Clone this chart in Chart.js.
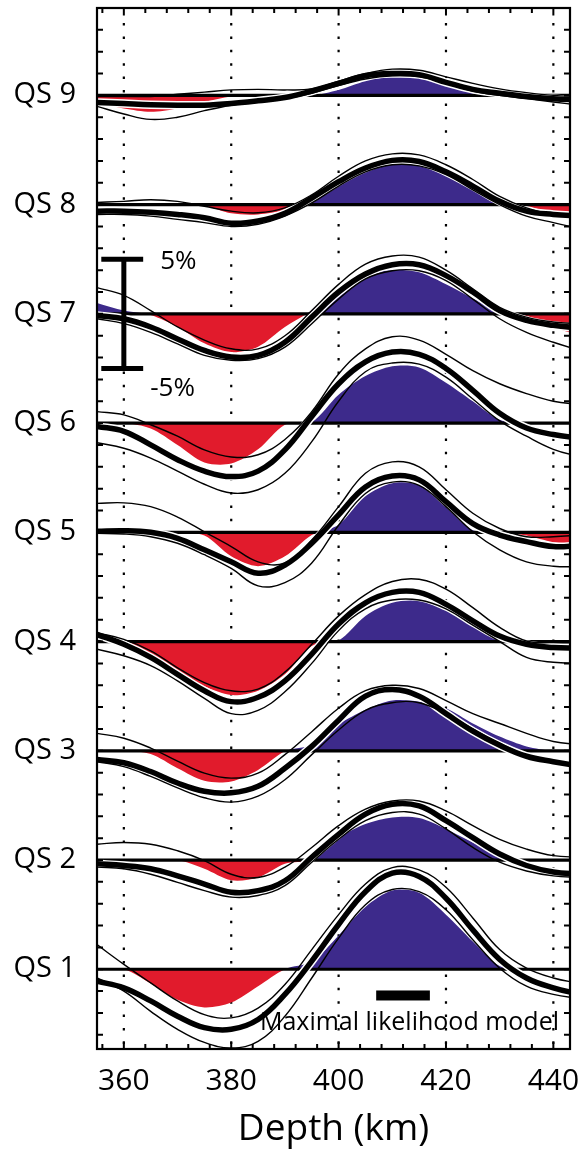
<!DOCTYPE html>
<html>
<head>
<meta charset="utf-8">
<title>QS depth profiles</title>
<script src="https://cdn.jsdelivr.net/npm/chart.js@4.4.0/dist/chart.umd.min.js"></script>
<style>
  html, body { margin: 0; padding: 0; background: #fff; }
  #wrap { position: relative; width: 581px; height: 1149px; }
</style>
</head>
<body>
<div id="wrap"><canvas id="qsChart"></canvas></div>
<script>
/**
 * QS 1 - QS 9 depth profiles, stacked 10 units apart
 */

// depth samples (km)
const depth = [355, 360, 365, 370, 375, 380, 385, 390, 395, 400, 405, 410, 415, 420, 425, 430, 435, 440, 445];

// axis ticks and trace names
const xTickValues = [360, 380, 400, 420, 440];
const traceLabels = ["QS 1", "QS 2", "QS 3", "QS 4", "QS 5", "QS 6", "QS 7", "QS 8", "QS 9"];

// filled anomaly (red below, blue above the trace baseline)
const fillQS1 = [0, 0, -1.3, -2.8, -3.5, -3.05, -1.55, 0, 0.7, 3.1, 5.7, 7.2, 7.0, 5.0, 2.55, 0.3, 0, 0, 0];
const fillQS2 = [0, 0, 0, 0, -0.8, -1.85, -1.6, -0.35, 0.05, 2.05, 3.3, 3.9, 3.85, 2.85, 1.6, 0.4, 0, 0, 0];
const fillQS3 = [0, 0, -0.3, -1.6, -2.75, -2.8, -1.75, -0.05, 0.55, 2.4, 3.75, 4.6, 4.5, 3.9, 2.5, 1.3, 0.4, 0, 0];
const fillQS4 = [0, 0, -1.3, -2.8, -4.1, -4.9, -4.5, -3.0, -0.4, 0.1, 2.35, 3.55, 3.7, 2.8, 1.3, 0.05, 0, 0, 0];
const fillQS5 = [0, 0, 0, 0, -0.3, -2.2, -3.1, -2.2, -0.25, 0.7, 3.3, 4.5, 4.3, 2.3, 0.2, 0, -0.3, -0.9, -1.0];
const fillQS6 = [0, 0, -0.5, -2.0, -3.6, -3.7, -2.4, -0.15, 0.1, 2.6, 4.3, 5.2, 5.1, 3.7, 2.0, 0.3, 0, 0, 0];
const fillQS7 = [1.0, 0.3, -0.1, -1.2, -2.7, -3.5, -3.0, -1.2, 0.3, 2.3, 3.6, 4.0, 3.8, 2.7, 1.4, 0.2, -0.2, -1.2, -2.0];
const fillQS8 = [0, 0, 0, 0, -0.1, -0.8, -0.9, -0.5, 0.3, 1.7, 3.0, 3.8, 3.6, 2.8, 1.4, 0.2, -0.1, -0.8, -1.2];
const fillQS9 = [-0.7, -1.2, -1.5, -1.2, -0.6, -0.1, 0, 0, 0, 0.5, 1.3, 1.7, 1.6, 1.1, 0.2, 0, 0, 0, 0];

// thick curve
const meanQS1 = [-1.1, -1.7, -2.9, -4.3, -5.35, -5.5, -4.6, -2.3, 0.75, 4.1, 7.1, 8.8, 8.5, 6.5, 3.6, 0.9, -0.8, -1.7, -2.3];
const meanQS2 = [-0.35, -0.5, -0.8, -1.45, -2.2, -2.95, -2.8, -1.9, 0.25, 2.35, 4.2, 5.1, 4.95, 3.6, 2.05, 0.55, -0.5, -1.1, -1.3];
const meanQS3 = [-0.8, -1.1, -1.9, -2.95, -3.7, -3.85, -3.25, -1.6, 0.4, 2.8, 5.0, 5.6, 5.0, 3.4, 1.8, 0.5, -0.5, -1.0, -1.4];
const meanQS4 = [0.65, -0.25, -1.45, -3.0, -4.5, -5.5, -5.1, -3.6, -1.15, 1.6, 3.55, 4.5, 4.5, 3.4, 1.9, 0.5, -0.25, -0.55, -0.6];
const meanQS5 = [0.1, 0.15, 0, -0.55, -1.6, -2.7, -3.75, -3.0, -1.0, 1.6, 4.15, 5.15, 4.8, 2.8, 0.8, -0.25, -0.85, -1.3, -1.2];
const meanQS6 = [-0.3, -0.75, -2.0, -3.35, -4.4, -4.9, -4.4, -2.45, 0.6, 3.6, 5.6, 6.5, 6.3, 5.0, 3.0, 0.9, -0.45, -1.05, -1.4];
const meanQS7 = [-0.15, -0.45, -1.2, -2.3, -3.35, -3.95, -3.8, -2.6, -0.3, 2.0, 3.65, 4.5, 4.5, 3.5, 2.0, 0.3, -0.6, -1.05, -1.3];
const meanQS8 = [-0.6, -0.6, -0.7, -0.9, -1.2, -1.7, -1.5, -0.8, 0.6, 2.1, 3.35, 4.05, 3.95, 3.0, 1.7, 0.3, -0.6, -0.9, -1.05];
const meanQS9 = [-0.65, -0.75, -0.85, -0.9, -0.9, -0.75, -0.5, -0.2, 0.4, 1.1, 1.8, 2.0, 1.9, 1.2, 0.55, 0.2, -0.1, -0.3, -0.4];

// thin upper curve
const hiQS1 = [2.25, 0.45, -1.25, -2.9, -4.15, -4.45, -3.55, -1.4, 1.8, 5.0, 7.8, 9.3, 9.1, 7.5, 4.7, 1.8, 0.1, -0.8, -1.3];
const hiQS2 = [1.45, 1.6, 1.45, 0.85, -0.05, -1.3, -1.6, -0.65, 1.15, 3.15, 4.65, 5.4, 5.4, 4.5, 3.15, 1.9, 1.0, 0.4, 0.25];
const hiQS3 = [1.6, 1.15, 0.25, -0.95, -2.05, -2.5, -2.05, -0.35, 1.75, 3.9, 5.5, 6.0, 5.7, 4.6, 3.4, 2.5, 1.6, 0.85, 0.55];
const hiQS4 = [0.8, 0.2, -0.85, -2.4, -3.75, -4.5, -4.35, -2.8, -0.25, 2.35, 4.3, 5.5, 5.7, 4.8, 3.1, 1.3, 0.05, -0.1, -0.1];
const hiQS5 = [2.65, 2.7, 2.35, 1.4, 0.05, -1.3, -2.7, -2.8, -0.7, 2.35, 5.4, 6.45, 6.0, 3.9, 1.75, 0.35, -0.4, -0.4, -0.25];
const hiQS6 = [1.05, 0.75, -0.15, -1.2, -2.45, -3.1, -2.9, -1.5, 1.05, 4.5, 6.8, 7.9, 7.6, 6.3, 4.8, 3.6, 2.7, 2.0, 1.7];
const hiQS7 = [2.4, 1.7, 0.3, -1.2, -2.4, -3.2, -3.2, -2.0, 0.3, 2.7, 4.55, 5.3, 5.2, 4.0, 2.3, 0.6, -0.3, -0.75, -0.9];
const hiQS8 = [0.2, 0.3, 0.45, 0.3, -0.15, -0.6, -0.75, -0.3, 0.9, 2.6, 4.0, 4.65, 4.55, 3.65, 2.3, 0.75, -0.3, -0.9, -1.2];
const hiQS9 = [-0.1, -0.1, -0.1, 0.1, 0.3, 0.5, 0.55, 0.5, 0.6, 1.3, 2.0, 2.4, 2.3, 1.7, 1.1, 0.6, 0.25, 0.0, -0.1];

// thin lower curve
const loQS1 = [-0.8, -2.0, -3.85, -5.5, -6.7, -7.2, -6.6, -4.3, -0.8, 2.85, 5.9, 7.3, 7.1, 5.45, 2.7, 0.1, -1.55, -2.3, -2.7];
const loQS2 = [-0.65, -0.8, -1.3, -2.05, -2.8, -3.4, -3.25, -2.35, -0.2, 1.9, 3.6, 4.35, 4.2, 2.85, 1.15, -0.2, -1.0, -1.45, -1.6];
const loQS3 = [-1.0, -1.45, -2.35, -3.4, -4.3, -4.7, -4.15, -2.65, -0.35, 1.9, 3.7, 4.4, 4.4, 3.4, 2.0, 0.7, -0.4, -1.0, -1.4];
const loQS4 = [-0.7, -1.3, -2.2, -3.6, -5.2, -6.6, -6.3, -4.6, -2.0, 1.0, 3.0, 3.8, 3.8, 3.0, 1.5, 0.0, -1.45, -1.9, -2.0];
const loQS5 = [-0.1, -0.15, -0.4, -1.0, -2.05, -3.3, -4.9, -4.6, -2.8, 0.65, 3.55, 4.6, 4.3, 2.35, 0.05, -1.6, -2.7, -3.1, -3.15];
const loQS6 = [-1.8, -2.3, -3.2, -4.4, -5.6, -6.4, -6.1, -4.6, -1.7, 2.0, 4.7, 5.5, 5.4, 4.2, 2.2, 0.2, -1.2, -2.4, -3.1];
const loQS7 = [-0.45, -0.9, -1.7, -2.75, -3.8, -4.25, -4.1, -3.05, -0.9, 1.35, 3.2, 3.95, 3.95, 3.05, 1.35, -0.45, -1.7, -2.6, -3.35];
const loQS8 = [-0.9, -0.9, -1.05, -1.35, -1.65, -2.0, -1.8, -1.05, 0.15, 1.7, 3.0, 3.65, 3.55, 2.75, 1.35, 0, -1.05, -1.65, -2.2];
const loQS9 = [-1.0, -1.7, -2.2, -2.0, -1.4, -0.9, -0.6, -0.3, 0.2, 0.9, 1.5, 1.8, 1.7, 1.1, 0.4, 0, -0.3, -0.6, -0.9];

// maximal likelihood model depth range (km)
const mlRange = [407, 417];

const traces = [
  { fill: fillQS1, mean: meanQS1, hi: hiQS1, lo: loQS1 },
  { fill: fillQS2, mean: meanQS2, hi: hiQS2, lo: loQS2 },
  { fill: fillQS3, mean: meanQS3, hi: hiQS3, lo: loQS3 },
  { fill: fillQS4, mean: meanQS4, hi: hiQS4, lo: loQS4 },
  { fill: fillQS5, mean: meanQS5, hi: hiQS5, lo: loQS5 },
  { fill: fillQS6, mean: meanQS6, hi: hiQS6, lo: loQS6 },
  { fill: fillQS7, mean: meanQS7, hi: hiQS7, lo: loQS7 },
  { fill: fillQS8, mean: meanQS8, hi: hiQS8, lo: loQS8 },
  { fill: fillQS9, mean: meanQS9, hi: hiQS9, lo: loQS9 },
];

const SPACING = 10;
const RED = "#e11b2c";
const BLUE = "#3d2a8b";
const FONT = '"Open Sans", "DejaVu Sans", sans-serif';

/**
 * one trace -> fill, baseline, halo, thin and thick lines
 */
function buildDatasets() {
  const sets = [];

  traces.forEach(function (t, i) {
    const base = i * SPACING;
    const pts = function (arr) {
      return depth.map(function (d, j) {
        return { x: d, y: base + arr[j] };
      });
    };

    sets.push({
      data: pts(t.fill),
      borderWidth: 0,
      borderColor: "rgba(0,0,0,0)",
      tension: 0.3,
      fill: { target: { value: base }, above: BLUE, below: RED },
      order: 50,
    });
    sets.push({
      data: [
        { x: depth[0], y: base },
        { x: depth[depth.length - 1], y: base },
      ],
      borderColor: "#000",
      borderWidth: 3.2,
      order: 40,
    });
    sets.push({ data: pts(t.mean), borderColor: "#fff", borderWidth: 8.5, order: 30 });
    sets.push({ data: pts(t.hi), borderColor: "#000", borderWidth: 1.4, order: 20 });
    sets.push({ data: pts(t.lo), borderColor: "#000", borderWidth: 1.4, order: 20 });
    sets.push({ data: pts(t.mean), borderColor: "#000", borderWidth: 5.5, order: 10 });
  });

  return sets;
}

/**
 * frame, inward ticks, dotted grid, labels and annotations
 */
const decor = {
  id: "decor",
  beforeDatasetsDraw(chart) {
    const { ctx, chartArea: a, scales } = chart;
    ctx.save();
    ctx.strokeStyle = "#000";
    ctx.lineWidth = 2.2;
    ctx.setLineDash([2.5, 10.9]);
    xTickValues.forEach(function (v) {
      const px = scales.x.getPixelForValue(v);
      ctx.beginPath();
      ctx.moveTo(px, a.top + 15);
      ctx.lineTo(px, a.bottom);
      ctx.stroke();
    });
    ctx.restore();
  },
  afterDatasetsDraw(chart) {
    const { ctx, chartArea: a, scales } = chart;
    const x = scales.x;
    const y = scales.y;
    ctx.save();
    ctx.strokeStyle = "#000";
    ctx.fillStyle = "#000";

    // frame
    ctx.lineWidth = 2.2;
    ctx.strokeRect(a.left, a.top, a.right - a.left, a.bottom - a.top);

    // x ticks every 4 km, top and bottom, pointing in
    ctx.lineWidth = 2;
    for (let v = 356; v < x.max; v += 4) {
      const px = x.getPixelForValue(v);
      const len = xTickValues.indexOf(v) >= 0 ? 7.5 : 5;
      ctx.beginPath();
      ctx.moveTo(px, a.top);
      ctx.lineTo(px, a.top + len);
      ctx.moveTo(px, a.bottom);
      ctx.lineTo(px, a.bottom - len);
      ctx.stroke();
    }

    // y ticks every 2 units, left and right
    for (let v = -6; v < y.max; v += 2) {
      const py = y.getPixelForValue(v);
      ctx.beginPath();
      ctx.moveTo(a.left, py);
      ctx.lineTo(a.left + 6, py);
      ctx.moveTo(a.right, py);
      ctx.lineTo(a.right - 6, py);
      ctx.stroke();
    }

    // trace names
    ctx.font = "29px " + FONT;
    ctx.textAlign = "right";
    ctx.textBaseline = "alphabetic";
    traceLabels.forEach(function (label, i) {
      ctx.fillText(label, a.left - 21, y.getPixelForValue(i * SPACING) + 8);
    });

    // depth tick labels
    ctx.font = "30px " + FONT;
    ctx.textAlign = "center";
    xTickValues.forEach(function (v) {
      ctx.fillText(String(v), x.getPixelForValue(v), a.bottom + 41);
    });

    // axis title
    ctx.font = "37px " + FONT;
    ctx.fillText("Depth (km)", (a.left + a.right) / 2, a.bottom + 91);

    // 5% scale bar on QS 7
    const barBase = 6 * SPACING;
    const bx = x.getPixelForValue(360);
    const bTop = y.getPixelForValue(barBase + 5);
    const bBot = y.getPixelForValue(barBase - 5);
    const capL = x.getPixelForValue(355.8);
    const capR = x.getPixelForValue(363.6);
    ctx.lineWidth = 5;
    ctx.beginPath();
    ctx.moveTo(bx, bTop);
    ctx.lineTo(bx, bBot);
    ctx.moveTo(capL, bTop);
    ctx.lineTo(capR, bTop);
    ctx.moveTo(capL, bBot);
    ctx.lineTo(capR, bBot);
    ctx.stroke();
    ctx.font = "26px " + FONT;
    ctx.textAlign = "left";
    ctx.fillText("5%", capR + 17, bTop + 10);
    ctx.fillText("-5%", capR + 7, bBot + 28);

    // maximal likelihood model marker
    const my = y.getPixelForValue(-2.4);
    const mx0 = x.getPixelForValue(mlRange[0]);
    const mx1 = x.getPixelForValue(mlRange[1]);
    ctx.fillRect(mx0, my - 5, mx1 - mx0, 10);
    ctx.font = "25px " + FONT;
    ctx.textAlign = "right";
    ctx.fillText("Maximal likelihood model", a.right - 11, y.getPixelForValue(-5.6));

    ctx.restore();
  },
};

document.addEventListener("DOMContentLoaded", function () {
  const canvas = document.getElementById("qsChart");

  new Chart(canvas, {
    type: "line",
    data: { datasets: buildDatasets() },
    options: {
      responsive: true,
      maintainAspectRatio: false,
      animation: false,
      layout: { padding: { left: 97, right: 11, top: 8, bottom: 100 } },
      datasets: { line: { clip: 0 } },
      elements: {
        point: { radius: 0, hoverRadius: 0 },
        line: { tension: 0.4 },
      },
      plugins: {
        legend: { display: false },
        tooltip: { enabled: false },
      },
      scales: {
        x: { type: "linear", min: 355, max: 443.1, display: false },
        y: { type: "linear", min: -7.3, max: 88, display: false },
      },
    },
    plugins: [decor],
  });
});
</script>
</body>
</html>
